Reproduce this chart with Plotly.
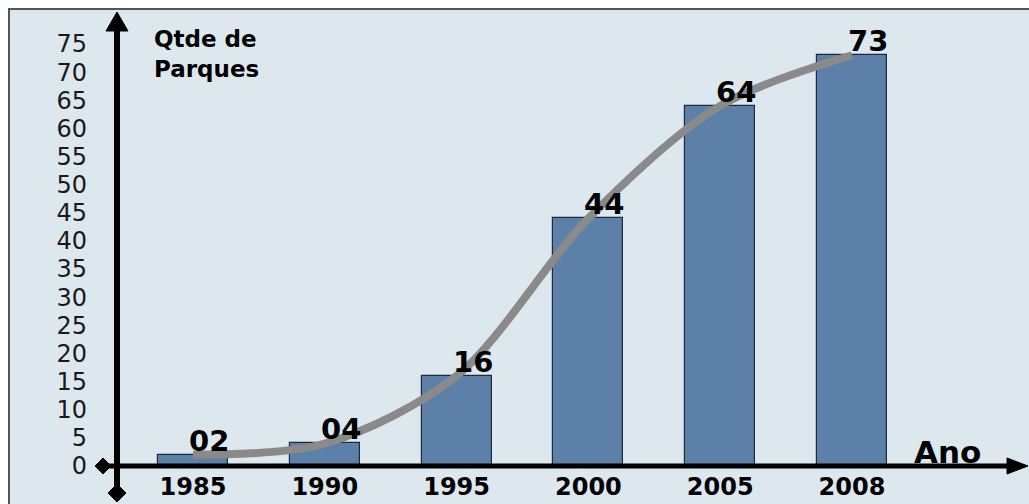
import plotly.graph_objects as go

# ---- data ----
anos = ["1985", "1990", "1995", "2000", "2005", "2008"]
parques = [2, 4, 16, 44, 64, 73]
rotulos = ["02", "04", "16", "44", "64", "73"]
y_ticks = list(range(0, 80, 5))

# ---- layout geometry helpers (pixel -> paper) ----
FW, FH = 1029, 504
L, B = 116, 38
W, H = FW - L, FH - B


def px(x):
    return (x - L) / W


def py(y):
    return (H - y) / H


BG = "#dde8ee"
BAR = "#5d80a9"
BAR_LINE = "#1d2b3d"
CURVE = "#8a8a8a"
FONT = "DejaVu Sans, Liberation Sans, Arial"

fig = go.Figure()
fig.add_bar(
    x=anos, y=parques, width=0.53,
    marker=dict(color=BAR, line=dict(color=BAR_LINE, width=1.2)),
    hoverinfo="skip",
)
fig.add_scatter(
    x=anos, y=parques, mode="lines",
    line=dict(color=CURVE, width=8, shape="spline", smoothing=0.9),
    hoverinfo="skip",
)

annotations = []
for i, (v, t) in enumerate(zip(parques, rotulos)):
    annotations.append(dict(
        x=i, y=v, xref="x", yref="y", text=t, showarrow=False,
        xanchor="center", yanchor="bottom",
        xshift=16, yshift=-5,
        font=dict(family=FONT, size=29, color="#000", weight="bold"),
    ))

annotations.append(dict(
    xref="paper", yref="paper", x=px(152), y=py(24), xanchor="left", yanchor="top",
    text="Qtde de<br>Parques", align="left", showarrow=False,
    font=dict(family=FONT, size=23, color="#000", weight="bold"),
))
annotations.append(dict(
    xref="paper", yref="paper", x=px(912), y=py(472), xanchor="left", yanchor="bottom",
    text="Ano", showarrow=False,
    font=dict(family=FONT, size=31, color="#000", weight="bold"),
))

shapes = [
    # panel background
    dict(type="rect", xref="paper", yref="paper", x0=px(9), y0=py(9), x1=px(1040), y1=py(515),
         fillcolor=BG, line=dict(color="#555", width=2), layer="below"),
    # y axis
    dict(type="line", xref="paper", yref="paper", x0=px(117), y0=py(28), x1=px(117), y1=py(492),
         line=dict(color="#000", width=6)),
    dict(type="path", xref="paper", yref="paper",
         path=f"M {px(106)} {py(31)} L {px(128)} {py(31)} L {px(117)} {py(12)} Z",
         fillcolor="#000", line=dict(color="#000", width=1)),
    dict(type="path", xref="paper", yref="paper",
         path=f"M {px(117)} {py(484)} L {px(126)} {py(493)} L {px(117)} {py(502)} L {px(108)} {py(493)} Z",
         fillcolor="#000", line=dict(color="#000", width=1)),
    # x axis
    dict(type="line", xref="paper", yref="paper", x0=px(103), y0=py(466), x1=px(1012), y1=py(466),
         line=dict(color="#000", width=5)),
    dict(type="path", xref="paper", yref="paper",
         path=f"M {px(95)} {py(466)} L {px(103)} {py(458)} L {px(111)} {py(466)} L {px(103)} {py(474)} Z",
         fillcolor="#000", line=dict(color="#000", width=1)),
    dict(type="path", xref="paper", yref="paper",
         path=f"M {px(1007)} {py(458)} L {px(1028)} {py(466)} L {px(1007)} {py(474)} Z",
         fillcolor="#000", line=dict(color="#000", width=1)),
]

fig.update_layout(
    width=FW, height=FH,
    margin=dict(l=L, r=0, t=0, b=B, pad=0, autoexpand=False),
    paper_bgcolor="white", plot_bgcolor="rgba(0,0,0,0)",
    showlegend=False, bargap=0,
    annotations=annotations, shapes=shapes,
    xaxis=dict(
        type="category", range=[(L - 193) / 131.8, (FW - 193) / 131.8],
        showgrid=False, zeroline=False, showline=False, ticks="",
        tickfont=dict(family=FONT, size=24, color="#000", weight="bold"),
        ticklabelstandoff=4, automargin=False,
    ),
    yaxis=dict(
        range=[0, H / 5.627], tickmode="array", tickvals=y_ticks,
        showgrid=False, zeroline=False, showline=False, ticks="",
        tickfont=dict(family=FONT, size=24, color="#1a1a1a"),
        ticklabelstandoff=28, automargin=False,
    ),
)

fig.write_html("out.html")
